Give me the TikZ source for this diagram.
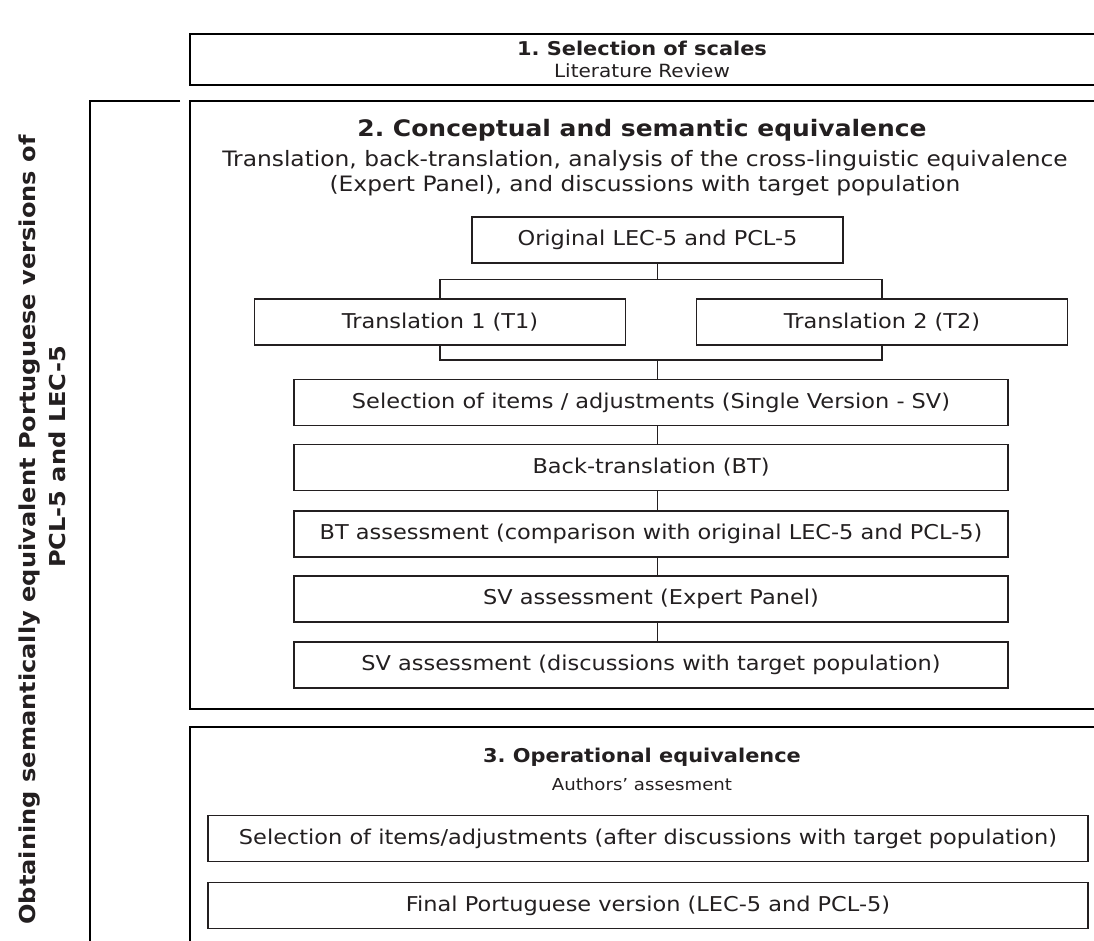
\documentclass[tikz,border=0pt]{standalone}
\usepackage{fontspec}
\setmainfont{DejaVu Sans}[FakeStretch=1.1]
\usetikzlibrary{calc, positioning}
\definecolor{ink}{HTML}{231F20}
\newcommand{\fsz}[1]{\fontsize{#1}{1.25*#1}\selectfont}
\tikzset{
  font=\fontsize{20.4}{25}\selectfont,
  % Outer frame of a stage
  frame/.style={line width=2pt, draw=black},
  % Inner step box
  stepbox/.style={draw=ink, line width=1.3pt, shape=rectangle,
    minimum height=46pt, inner sep=0pt, text=ink},
  wide/.style={stepbox, minimum width=714pt},
  half/.style={stepbox, minimum width=371pt},
  full/.style={stepbox, minimum width=880pt},
  % Stage title
  title/.style={text=ink},
  % Stage subtitle
  sub/.style={text=ink, align=center},
  % Connector lines
  link/.style={draw=ink, line width=1.3pt},
}

\begin{document}
\frenchspacing
\begin{tikzpicture}[x=1pt, y={(0pt,-1pt)}]
  \useasboundingbox (0,0) rectangle (1094,941);

  % stage frames, open on the right
  \draw[frame] (1094,34) -- (190,34) -- (190,85) -- (1094,85);
  \draw[frame] (1094,101) -- (190,101) -- (190,709) -- (1094,709);
  \draw[frame] (1094,727) -- (190,727) -- (190,941);
  % bracket
  \draw[frame] (180,101) -- (90,101) -- (90,941);

  \node[rotate=90, font=\fontsize{21.9}{27}\selectfont\bfseries, text=ink]
    (side1) at (30,530) {Obtaining semantically equivalent Portuguese versions of};
  \node[rotate=90, font=\fontsize{21.9}{27}\selectfont\bfseries, text=ink]
    (side2) at (57,457) {PCL-5 and LEC-5};

  % 1.
  \node[title, font=\fontsize{19}{24}\selectfont\bfseries] (s1) at (642,48)
    {1. Selection of scales};
  \node[sub, font=\fontsize{18.2}{23}\selectfont] (s1sub) at (642,71)
    {Literature Review};

  % 2.
  \node[title, font=\fontsize{22.7}{28}\selectfont\bfseries] (s2) at (642,130)
    {2. Conceptual and semantic equivalence};
  \node[sub, font=\fontsize{21.2}{25.5}\selectfont] (s2sub) at (645,173)
    {Translation, back-translation, analysis of the cross-linguistic equivalence\\
     (Expert Panel), and discussions with target population};

  \node[half] (orig) at (657.5,240) {Original LEC-5 and PCL-5};
  \node[half] (t1) at (440,322) {Translation 1 (T1)};
  \node[half] (t2) at (882,322) {Translation 2 (T2)};
  \node[wide] (sel) at (651,402.5) {Selection of items / adjustments (Single Version - SV)};
  \node[wide] (bt) at (651,467.5) {Back-translation (BT)};
  \node[wide] (bta) at (651,534) {BT assessment (comparison with original LEC-5 and PCL-5)};
  \node[wide] (sve) at (651,599) {SV assessment (Expert Panel)};
  \node[wide] (svd) at (651,665) {SV assessment (discussions with target population)};

  \coordinate (split) at ($(orig.south)+(0,16)$);
  \coordinate (join) at (orig.south |- 0,360);
  \draw[link] (orig.south) -- (split);
  \draw[link] (t1.north) |- (split) -| (t2.north);
  \draw[link] (t1.south) |- (join) -| (t2.south);
  \draw[link] (join) -- (sel.north -| join);
  \foreach \a/\b in {sel/bt, bt/bta, bta/sve, sve/svd}
    \draw[link] (\a.south -| join) -- (\b.north -| join);

  % 3.
  \node[title, font=\fontsize{19}{24}\selectfont\bfseries] (s3) at (642,757)
    {3. Operational equivalence};
  \node[sub, font=\fontsize{16.5}{21}\selectfont] (s3sub) at (642,784)
    {Authors’ assesment};
  \node[full] (opsel) at (648,838.5)
    {Selection of items/adjustments (after discussions with target population)};
  \node[full] (final) at (648,905.5) {Final Portuguese version (LEC-5 and PCL-5)};
\end{tikzpicture}
\end{document}
